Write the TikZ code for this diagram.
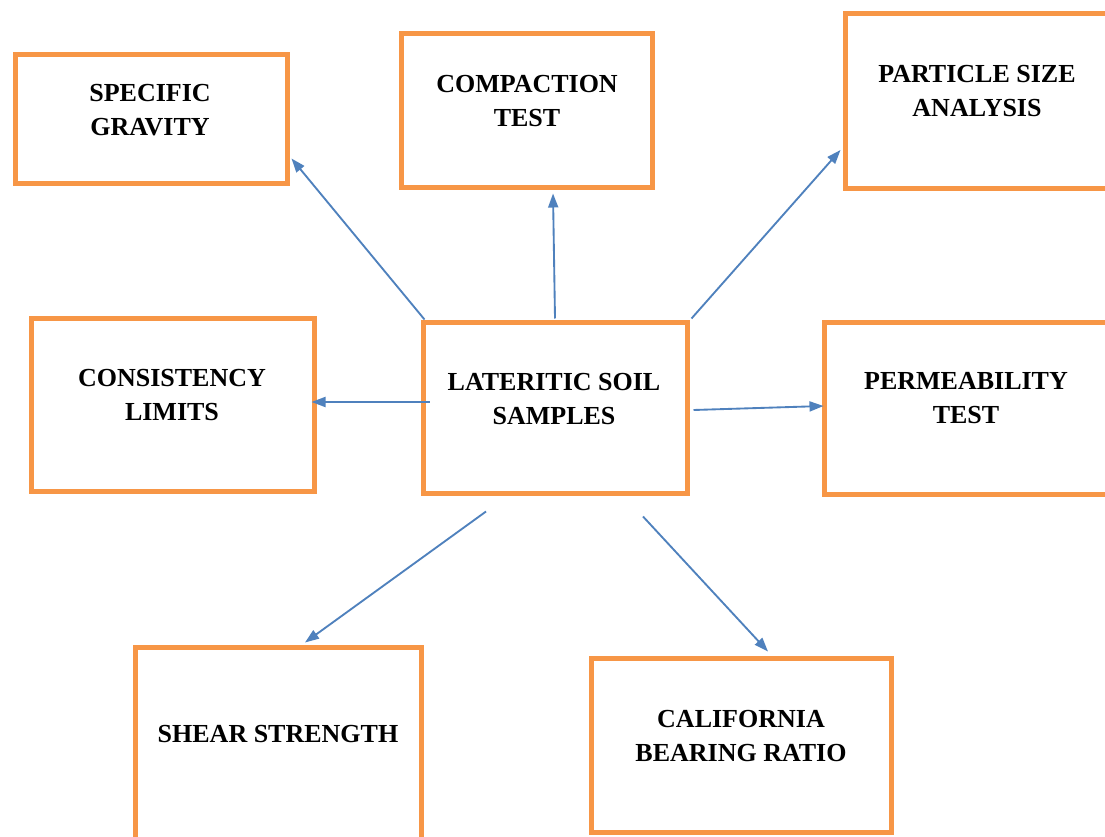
\documentclass[tikz,border=0pt]{standalone}
\usepackage{fontspec}
\setmainfont{Liberation Serif}
\usetikzlibrary{arrows.meta,calc}
\definecolor{boxorange}{HTML}{F79646}
\definecolor{arrowblue}{HTML}{4F81BD}
\begin{document}
\begin{tikzpicture}[x=0.75pt,y=-0.75pt,
  testbox/.style={draw=boxorange,line width=3.75pt,rectangle,inner sep=0pt},
  lbl/.style={font=\fontsize{19.5}{25.5}\selectfont\bfseries,align=center,inner sep=0pt,text=black},
  conn/.style={draw=arrowblue,line width=1.4pt,-{Triangle[length=10.5pt,width=7.5pt]}}]
\useasboundingbox (0,0) rectangle (1105,837);
\clip (0,0) rectangle (1105,837);
% boxes
\node[testbox,minimum width=272*0.75pt,minimum height=129*0.75pt] (sg) at (151,119.5) {};
\node[testbox,minimum width=251*0.75pt,minimum height=154*0.75pt] (ct) at (526.5,111) {};
\node[testbox,minimum width=270*0.75pt,minimum height=175*0.75pt] (ps) at (980,101.5) {};
\node[testbox,minimum width=283*0.75pt,minimum height=172*0.75pt] (cl) at (172.5,405) {};
\node[testbox,minimum width=264*0.75pt,minimum height=170*0.75pt] (lat) at (555,408) {};
\node[testbox,minimum width=291*0.75pt,minimum height=171*0.75pt] (pt) at (969.5,408.5) {};
\node[testbox,minimum width=286*0.75pt,minimum height=198*0.75pt] (ss) at (278,746) {};
\node[testbox,minimum width=300*0.75pt,minimum height=174*0.75pt] (cbr) at (741,745) {};
% labels
\node[lbl] (tsg) at (150,110) {SPECIFIC\\GRAVITY};
\node[lbl] (tct) at (527,101) {COMPACTION\\TEST};
\node[lbl] (tps) at (977,91.5) {PARTICLE SIZE\\ANALYSIS};
\node[lbl] (tcl) at (172,395.5) {CONSISTENCY\\LIMITS};
\node[lbl] (tlat) at (554,399) {LATERITIC SOIL\\SAMPLES};
\node[lbl] (tpt) at (966,398) {PERMEABILITY\\TEST};
\node[lbl] (tss) at (278,734) {SHEAR STRENGTH};
\node[lbl] (tcbr) at (741,736) {CALIFORNIA\\BEARING RATIO};
% connector ends
\coordinate (s1) at ($(lat.north west)+(4,-1)$);
\coordinate (e1) at ($(sg.south east)+(2,-28)$);
\coordinate (s2) at ($(lat.north)+(0,-2)$);
\coordinate (e2) at ($(ct.south)+(26.5,3)$);
\coordinate (s3) at ($(lat.north east)+(2,-2)$);
\coordinate (e3) at ($(ps.west)+(-2,48.5)$);
\coordinate (s4) at ($(lat.west)+(9,-6)$);
\coordinate (e4) at ($(cl.east)+(-5,-3)$);
\coordinate (s5) at ($(lat.east)+(4,2)$);
\coordinate (e5) at ($(pt.west)+(2,-2.5)$);
\coordinate (s6) at ($(lat.south)+(-69,16)$);
\coordinate (e6) at ($(ss.north)+(27,-2)$);
\coordinate (s7) at ($(lat.south)+(88,21)$);
\coordinate (e7) at ($(cbr.north)+(27,-4)$);
% connectors
\draw[conn] (s1) -- (e1);
\draw[conn] (s2) -- (e2);
\draw[conn] (s3) -- (e3);
\draw[conn] (s4) -- (e4);
\draw[conn] (s5) -- (e5);
\draw[conn] (s6) -- (e6);
\draw[conn] (s7) -- (e7);
\end{tikzpicture}
\end{document}
